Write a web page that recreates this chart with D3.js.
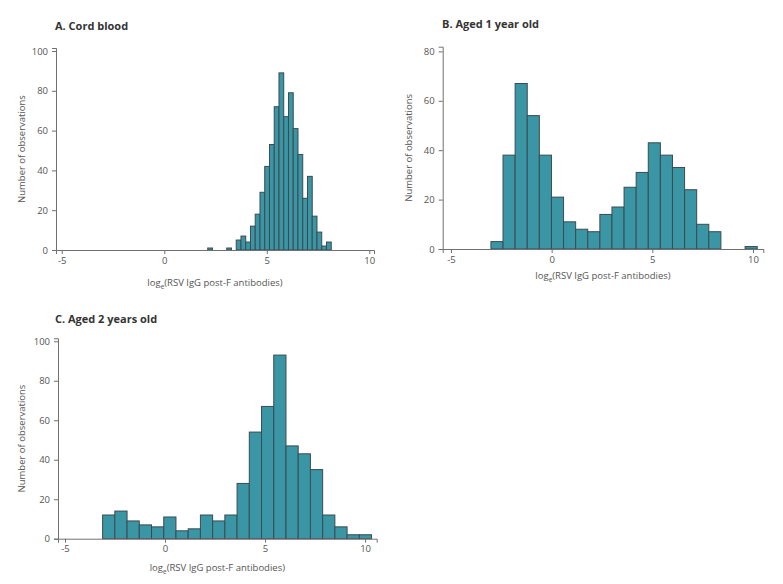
<!DOCTYPE html>
<html><head><meta charset="utf-8">
<script src="https://cdn.jsdelivr.net/npm/d3@7"></script>
<style>
body{margin:0;background:#fff;}
svg{display:block;font-family:"Open Sans",sans-serif;}
</style></head>
<body><svg id="c" width="783" height="584"></svg>
<script>
// Data (log_e RSV IgG post-F antibodies histograms)
const xTicks = [-5, 0, 5, 10];
const cordBinStart = 2.12, cordBinWidth = 0.2317;
const cordCounts = [1,0,0,0,1,0,5,7,4,12,18,29,42,53,72,89,67,79,61,48,26,37,17,9,2,4];
const cordYTicks = [0,20,40,60,80,100];
const year1BinStart = -3.015, year1BinWidth = 0.601;
const year1Counts = [3,38,67,54,38,21,11,8,7,14,17,25,31,43,38,33,24,10,7,0,0,1];
const year1YTicks = [0,20,40,60,80];
const year2BinStart = -3.12, year2BinWidth = 0.611;
const year2Counts = [12,14,9,7,6,11,4,5,12,9,12,28,54,67,93,47,43,35,12,6,2,2];
const year2YTicks = [0,20,40,60,80,100];
const titles = ["A. Cord blood", "B. Aged 1 year old", "C. Aged 2 years old"];

const svg = d3.select("#c");
const FILL = "#3a95a5", STROKE = "#3b4b51", AXIS = "#707070", TXT = "#555";

function panel(cfg){
  const g = svg.append("g");
  const x = d3.scaleLinear().domain(cfg.xd).range(cfg.xr);
  const y = d3.scaleLinear().domain(cfg.yd).range(cfg.yr);
  const bins = cfg.counts.map((c,i)=>({x0:cfg.start+i*cfg.width, x1:cfg.start+(i+1)*cfg.width, c}));
  g.selectAll("rect").data(bins.filter(b=>b.c>0)).join("rect")
    .attr("x", d=>x(d.x0)).attr("width", d=>x(d.x1)-x(d.x0))
    .attr("y", d=>y(d.c)).attr("height", d=>y(0)-y(d.c))
    .attr("fill", FILL).attr("stroke", STROKE).attr("stroke-width", 1);
  const xa = g.append("g").attr("transform", `translate(0,${cfg.yr[0]})`)
    .call(d3.axisBottom(x).tickValues(xTicks).tickSizeOuter(0).tickSize(4).tickPadding(3).tickFormat(d3.format("d")));
  const ya = g.append("g").attr("transform", `translate(${cfg.xr[0]},0)`)
    .call(d3.axisLeft(y).tickValues(cfg.yt).tickSizeOuter(0).tickSize(4).tickPadding(4));
  [xa, ya].forEach(a=>{
    a.select(".domain").attr("stroke", AXIS);
    a.selectAll(".tick line").attr("stroke", AXIS);
    a.selectAll(".tick text").attr("fill", TXT).style("font-size","9.5px").style("font-family","'Open Sans',sans-serif");
  });
  xa.selectAll(".tick text").text(d=>d<0?"-"+Math.abs(d):d);
  g.append("text").attr("x", cfg.titleX).attr("y", cfg.titleY)
    .attr("fill","#333").style("font-size","11px").style("font-weight","bold").text(cfg.title);
  g.append("text").attr("transform", `translate(${cfg.ylabX},${(cfg.yr[0]+cfg.yr[1])/2}) rotate(-90)`)
    .attr("text-anchor","middle").attr("fill","#555").style("font-size","9.5px").text("Number of observations");
  const xl = g.append("text").attr("x", (cfg.xr[0]+cfg.xr[1])/2).attr("y", cfg.xlabY)
    .attr("text-anchor","middle").attr("fill","#555").style("font-size","9.5px");
  xl.append("tspan").text("log");
  xl.append("tspan").attr("dy", 2.5).style("font-size","6.5px").text("e");
  xl.append("tspan").attr("dy", -2.5).text("(RSV IgG post-F antibodies)");
}

panel({title:titles[0], titleX:55, titleY:30, counts:cordCounts, start:cordBinStart, width:cordBinWidth,
  xd:[-5.28,10.23], xr:[56,374], yd:[0,101.5], yr:[250,48], yt:cordYTicks, ylabX:25, xlabY:286});
panel({title:titles[1], titleX:442, titleY:28, counts:year1Counts, start:year1BinStart, width:year1BinWidth,
  xd:[-5.41,10.51], xr:[442.7,763.3], yd:[0,81.9], yr:[249,46.7], yt:year1YTicks, ylabX:412, xlabY:279});
panel({title:titles[2], titleX:55, titleY:323, counts:year2Counts, start:year2BinStart, width:year2BinWidth,
  xd:[-5.35,10.58], xr:[58,376.7], yd:[0,101.5], yr:[538.7,338.3], yt:year2YTicks, ylabX:25, xlabY:571});
</script></body></html>
